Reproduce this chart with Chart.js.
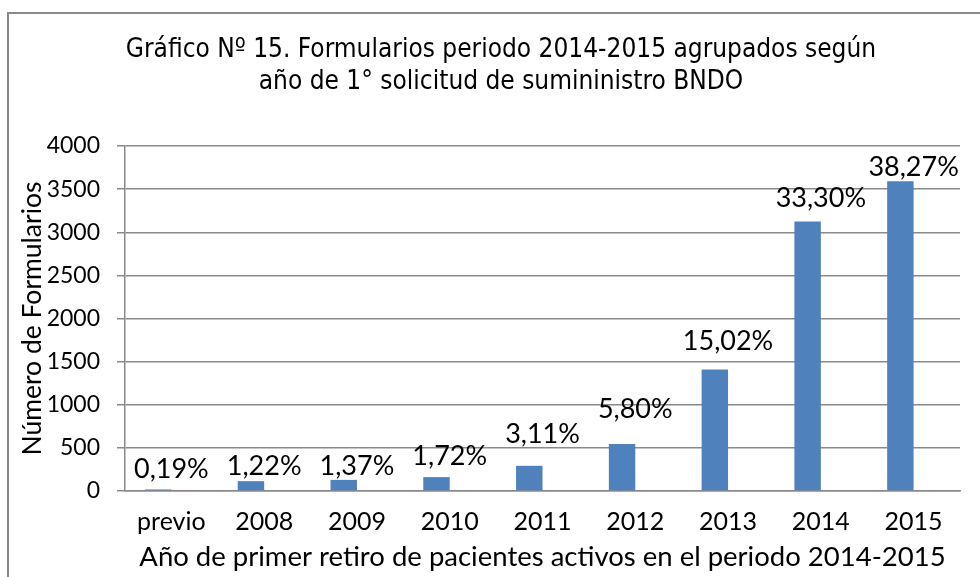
<!DOCTYPE html>
<html>
<head>
<meta charset="utf-8">
<script src="https://cdn.jsdelivr.net/npm/chart.js@4/dist/chart.umd.min.js"></script>
<style>
  html, body { margin: 0; padding: 0; background: #fff; }
</style>
</head>
<body>
<canvas id="chart" width="980" height="577"></canvas>
<script>
// data
const years = ['previo', '2008', '2009', '2010', '2011', '2012', '2013', '2014', '2015'];
const formularios = [18, 114, 129, 161, 292, 544, 1409, 3124, 3590];
const otraSerie = [10, 0, 0, 0, 0, 0, 0, 0, 0];
const porcentajes = ['0,19%', '1,22%', '1,37%', '1,72%', '3,11%', '5,80%', '15,02%', '33,30%', '38,27%'];
const yTicks = [0, 500, 1000, 1500, 2000, 2500, 3000, 3500, 4000];

const titleLines = [
  'Gráfico Nº 15. Formularios periodo 2014-2015 agrupados según',
  'año de 1° solicitud de sumininistro BNDO'
];

// how far (px) each percentage label sits above its bar top, as in the picture
const labelLift = [20, 15, 14, 21, 32, 35, 28, 23, 14];

const GRID = '#8a8a8a';

const framePlugin = {
  id: 'frame',
  beforeDraw(chart) {
    const ctx = chart.ctx;
    ctx.save();
    ctx.fillStyle = '#fff';
    ctx.fillRect(0, 0, chart.width, chart.height);
    ctx.strokeStyle = GRID;
    ctx.lineWidth = 2;
    ctx.strokeRect(8, 13, 1200, 1200);
    ctx.fillStyle = '#000';
    ctx.font = '26px "DejaVu Sans Condensed", "DejaVu Sans"';
    ctx.textAlign = 'center';
    ctx.textBaseline = 'middle';
    ctx.fillText(titleLines[0], 501, 50);
    ctx.fillText(titleLines[1], 501, 82);
    ctx.restore();
  }
};

const pctPlugin = {
  id: 'pctLabels',
  afterDatasetsDraw(chart) {
    const { ctx, scales: { x, y } } = chart;
    ctx.save();
    ctx.font = '27px Lato';
    ctx.fillStyle = '#000';
    ctx.textAlign = 'center';
    ctx.textBaseline = 'middle';
    porcentajes.forEach((txt, i) => {
      ctx.fillText(txt, x.getPixelForValue(i), y.getPixelForValue(formularios[i]) - labelLift[i]);
    });
    ctx.restore();
  }
};

new Chart(document.getElementById('chart'), {
  type: 'bar',
  data: {
    labels: years,
    datasets: [
      {
        label: 'Formularios',
        data: formularios,
        backgroundColor: '#4f81bd',
        borderWidth: 0
      },
      {
        label: 'Serie 2',
        data: otraSerie,
        backgroundColor: '#c0504d',
        borderWidth: 0
      }
    ]
  },
  options: {
    responsive: false,
    animation: false,
    devicePixelRatio: 1,
    layout: { padding: { top: 146, right: 20, left: 0, bottom: 0 } },
    datasets: {
      bar: { categoryPercentage: 0.57, barPercentage: 1 }
    },
    plugins: {
      legend: { display: false },
      title: { display: false },
      tooltip: { enabled: false }
    },
    scales: {
      x: {
        grid: { display: false, drawTicks: false },
        border: { display: true, color: GRID, width: 1.5 },
        ticks: {
          color: '#000',
          font: { family: 'Lato', size: 25 },
          padding: 16,
          maxRotation: 0,
          autoSkip: false
        },
        title: {
          display: true,
          text: 'Año de primer retiro de pacientes activos en el periodo 2014-2015',
          color: '#000',
          font: { family: 'Lato', size: 27.5 },
          padding: { top: 0, bottom: 3 }
        },
        afterFit(scale) { scale.height = 86; }
      },
      y: {
        min: 0,
        max: 4000,
        afterBuildTicks(scale) { scale.ticks = yTicks.map(v => ({ value: v })); },
        grid: { color: GRID, lineWidth: 1.5, tickLength: 8, drawTicks: true },
        border: { display: true, color: GRID, width: 1.5 },
        ticks: {
          color: '#000',
          font: { family: 'Lato', size: 23 },
          padding: 17,
          callback: v => String(v)
        },
        title: {
          display: true,
          text: 'Número de Formularios',
          color: '#000',
          font: { family: 'Lato', size: 26.5 },
          padding: { top: 17, bottom: 0 }
        },
        afterFit(scale) { scale.width = 125; }
      }
    }
  },
  plugins: [framePlugin, pctPlugin]
});
</script>
</body>
</html>
